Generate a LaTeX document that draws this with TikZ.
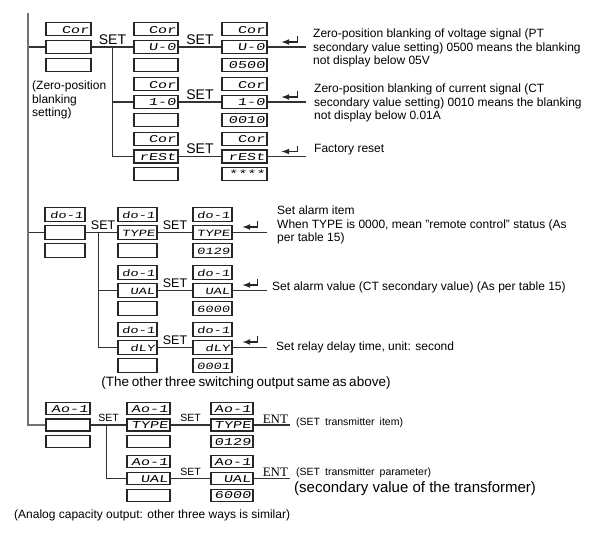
\documentclass[tikz,border=0pt]{standalone}
\usepackage{fontspec}
\setmainfont{Liberation Sans}
\newfontfamily\lcdfont{Liberation Mono}[FakeStretch=1.45,FakeSlant=0.15]
\newfontfamily\entfont{Liberation Serif}
\usepackage{tikz}
\usetikzlibrary{positioning}
\usetikzlibrary{calc}
% one display: top, middle and bottom window, placed by the middle one
\newcommand{\lcd}[6]{%
\node (#1m) at #2 [lcdbox, text width=#3] {#5};
\node (#1t) [lcdbox, text width=#3, above=\lcdgap of #1m] {#4};
\node (#1b) [lcdbox, text width=#3, below=\lcdgap of #1m] {#6};
}
\newcommand{\lcdgap}{3.5pt}

\begin{document}
\begin{tikzpicture}[x=1pt,y=-1pt,
 lcdbox/.style={draw=black!85, line width=1.1pt, minimum height=13pt, inner xsep=2pt, inner ysep=0pt,
   text height=7.5pt, text depth=0pt, align=right, font=\lcdfont\fontsize{10.5}{10}\selectfont},
 wire/.style={draw=black!80, line width=1.1pt},
 trunk/.style={draw=black!55, line width=1.2pt},
 retarr/.style={draw=black!85, line width=1.6pt, -latex},
 setlbl/.style={inner sep=0pt, font=\fontsize{14}{14}\selectfont},
 note/.style={inner sep=0pt, align=left, anchor=west, font=\fontsize{12}{13.5}\selectfont}]
\useasboundingbox (0,0) rectangle (599,539);

%% zero-position blanking
\lcd{a1}{(68.5,47)}{41pt}{Cor}{}{}
\lcd{b1}{(156,47)}{40pt}{Cor}{U-0}{}
\lcd{b2}{(156,102)}{40pt}{Cor}{1-0}{}
\lcd{b3}{(156,156.5)}{40pt}{Cor}{rESt}{}
\lcd{c1}{(244.5,47)}{41pt}{Cor}{U-0}{0500}
\lcd{c2}{(244.5,102)}{41pt}{Cor}{1-0}{0010}
\lcd{c3}{(244.5,156.5)}{41pt}{Cor}{rESt}{****}

\coordinate (vtop) at (28,13);
\coordinate (end1) at (306,0);
\coordinate (s1) at ($(a1m.east)!0.5!(b1m.west)$);
\draw[wire] (vtop |- a1m) -- (a1m.west);
\draw[wire] (a1m.east) -- (b1m.west);
\draw[wire] (s1) |- (b3m.west);
\draw[wire] (s1 |- b2m) -- (b2m.west);
\draw[wire] (b1m.east) -- (c1m.west);
\draw[wire] (b2m.east) -- (c2m.west);
\draw[wire] (b3m.east) -- (c3m.west);
\draw[wire] (c1m.east) -- (c1m -| end1);
\draw[wire] (c2m.east) -- (c2m -| end1);
\draw[wire] (c3m.east) -- (c3m -| end1);
\node (set1) [setlbl, above=2.5pt of s1] {SET};
\foreach \i in {1,2,3}
  \node (setc\i) [setlbl, above=2.5pt of {$(b\i m.east)!0.5!(c\i m.west)$}] {SET};
\foreach \i in {1,2,3}
  \draw[retarr] ($(c\i m.east)+(30,-11)$) -- ++(0,6) -- ++(-16,0);

\node (zb) at (32,100) [note] {(Zero-position\\blanking\\setting)};
\node (t1) at (313,48) [note] {Zero-position blanking of voltage signal (PT\\secondary value setting) 0500 means the blanking\\not display below 05V};
\node (t2) at (314,103) [note] {Zero-position blanking of current signal (CT\\secondary value setting) 0010 means the blanking\\not display below 0.01A};
\node (t3) at (314,150) [note] {Factory reset};

%% switching output
\begin{scope}[lcdbox/.append style={minimum height=14pt, font=\lcdfont\fontsize{9.5}{10}\selectfont}]
\renewcommand{\lcdgap}{3pt}
\lcd{a2}{(65,232.5)}{36pt}{do-1}{}{}
\lcd{b4}{(137.5,232.5)}{35pt}{do-1}{TYPE}{}
\lcd{b5}{(137.5,290.5)}{35pt}{do-1}{UAL}{}
\lcd{b6}{(137.5,347.5)}{35pt}{do-1}{dLY}{}
\lcd{c4}{(212.5,232.5)}{35pt}{do-1}{TYPE}{0129}
\lcd{c5}{(212.5,290.5)}{35pt}{do-1}{UAL}{6000}
\lcd{c6}{(212.5,347.5)}{35pt}{do-1}{dLY}{0001}
\end{scope}

\coordinate (end2) at (267,0);
\coordinate (s2) at ($(a2m.east)!0.42!(b4m.west)$);
\draw[wire] (vtop |- a2m) -- (a2m.west);
\draw[wire] (a2m.east) -- (b4m.west);
\draw[wire] (s2) |- (b6m.west);
\draw[wire] (s2 |- b5m) -- (b5m.west);
\foreach \i in {4,5,6} {
  \draw[wire] (b\i m.east) -- (c\i m.west);
  \draw[wire] (c\i m.east) -- (c\i m -| end2);
  \draw[retarr] ($(c\i m.east)+(25,-11.5)$) -- ++(0,6) -- ++(-15,0);
  \node (setc\i) [setlbl, font=\fontsize{12.5}{12.5}\selectfont, above=2.5pt of {$(b\i m.east)!0.5!(c\i m.west)$}] {SET};
}
\node (set2) [setlbl, font=\fontsize{12.5}{12.5}\selectfont, above=2.5pt of {$(a2m.east)!0.55!(b4m.west)$}] {SET};

\node (t4) at (277,225) [note] {Set alarm item\\When TYPE is 0000, mean "remote control" status (As\\per table 15)};
\node (t5) at (272,287) [note] {Set alarm value (CT secondary value) (As per table 15)};
\node (t6) at (276,347) [note] {Set relay delay time, unit: second};
\node (same) at (246,383) [inner sep=0pt, font=\fontsize{13.5}{13.5}\selectfont] {\spaceskip=2.6pt (The other three switching output same as above)};

%% analog output
\begin{scope}[lcdbox/.append style={minimum height=12pt}]
\lcd{a3}{(68,425)}{40pt}{Ao-1}{}{}
\lcd{b7}{(148.5,425)}{39pt}{Ao-1}{TYPE}{}
\lcd{b8}{(148.5,478.5)}{39pt}{Ao-1}{UAL}{}
\lcd{c7}{(232,425)}{38pt}{Ao-1}{TYPE}{0129}
\lcd{c8}{(232,478.5)}{38pt}{Ao-1}{UAL}{6000}
\end{scope}

\coordinate (end3) at (290,0);
\coordinate (s3) at ($(a3m.east)!0.45!(b7m.west)$);
\draw[trunk] (vtop) |- (a3m.west);
\draw[wire] (a3m.east) -- (b7m.west);
\draw[wire] (s3) |- (b8m.west);
\node (set3) [setlbl, font=\fontsize{10.5}{10.5}\selectfont, above=3pt of {$(a3m.east)!0.5!(b7m.west)$}] {SET};
\foreach \i in {7,8} {
  \draw[wire] (b\i m.east) -- (c\i m.west);
  \draw[wire] (c\i m.east) -- (c\i m -| end3);
  \node (setc\i) [setlbl, font=\fontsize{10.5}{10.5}\selectfont, above=3pt of {$(b\i m.east)!0.5!(c\i m.west)$}] {SET};
  \node (ent\i) [inner sep=0pt, anchor=south west, font=\entfont\fontsize{13}{13}\selectfont] at ($(c\i m.east)+(9,-1.5)$) {ENT};
}
\node (t7) at (296,423) [note, font=\fontsize{10.5}{12}\selectfont] {\spaceskip=5pt (SET transmitter item)};
\node (t8) at (296,473) [note, font=\fontsize{10.5}{12}\selectfont] {\spaceskip=5pt (SET transmitter parameter)};
\node (t9) at (294,489) [note, font=\fontsize{15}{16}\selectfont] {(secondary value of the transformer)};
\node (t10) at (14,515) [note] {(Analog capacity output: other three ways is similar)};
\end{tikzpicture}
\end{document}
